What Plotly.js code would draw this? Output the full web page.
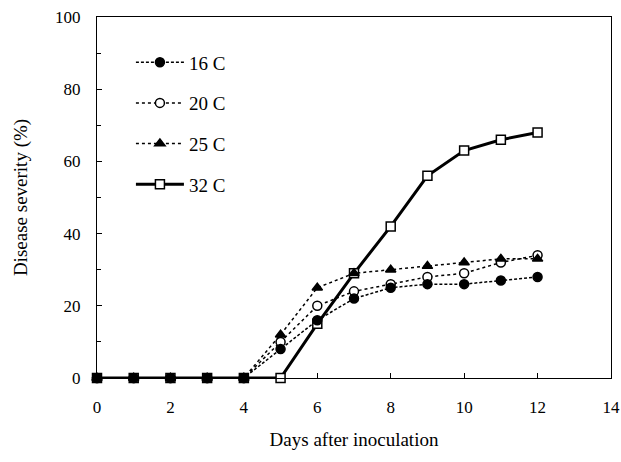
<!DOCTYPE html>
<html>
<head>
<meta charset="utf-8">
<script src="https://cdn.plot.ly/plotly-3.0.1.min.js"></script>
<style>html,body{margin:0;padding:0;background:#fff;}#chart{width:621px;height:462px;}</style>
</head>
<body>
<div id="chart"></div>
<script>
var days = [0,1,2,3,4,5,6,7,8,9,10,11,12];
var seriesNames = ["16 C","20 C","25 C","32 C"];
var sev16 = [0,0,0,0,0,8,16,22,25,26,26,27,28];
var sev20 = [0,0,0,0,0,10,20,24,26,28,29,32,34];
var sev25 = [0,0,0,0,0,12,25,29,30,31,32,33,33];
var sev32 = [0,0,0,0,0,0,15,29,42,56,63,66,68];
var xTicks = [0,2,4,6,8,10,12,14];
var yTicks = [0,20,40,60,80,100];

var font = "Liberation Serif, Times New Roman, serif";

function tr(name, y, sym, fill, dash, w, grp, rank) {
  return {
    x: days, y: y, name: name, type: "scatter", mode: "lines+markers",
    legendgroup: grp, legendrank: rank, cliponaxis: false,
    line: {color: "#000", width: w, dash: dash},
    marker: {symbol: sym, size: 9, color: fill, line: {color: "#000", width: 1.5}}
  };
}

// 32 C drawn first (underneath), 16 C last (on top); legend keeps 16, 20, 25, 32 order
var data = [
  tr(seriesNames[3], sev32, "square", "#fff", "solid", 3, "d", 4),
  tr(seriesNames[1], sev20, "circle", "#fff", "dot", 1.5, "b", 2),
  tr(seriesNames[2], sev25, "triangle-up", "#000", "dot", 1.5, "c", 3),
  tr(seriesNames[0], sev16, "circle", "#000", "3px,2px", 1.5, "a", 1)
];

var layout = {
  width: 621, height: 462,
  margin: {l: 97, r: 10, t: 17, b: 84},
  paper_bgcolor: "#fff", plot_bgcolor: "#fff",
  font: {family: font, size: 17, color: "#000"},
  showlegend: true,
  legend: {
    x: 0.066, y: 0.927, xanchor: "left", yanchor: "top",
    bgcolor: "rgba(0,0,0,0)", font: {family: font, size: 19, color: "#000"},
    traceorder: "grouped", tracegroupgap: 13, itemwidth: 48
  },
  xaxis: {
    range: [0, 14], tickvals: xTicks, ticktext: xTicks.map(String),
    showline: true, linecolor: "#000", linewidth: 1, mirror: true,
    ticks: "inside", ticklen: 5, tickcolor: "#000",
    showgrid: false, zeroline: false,
    ticklabelstandoff: 14,
    title: {text: "Days after inoculation", font: {family: font, size: 19}, standoff: 16},
    automargin: false
  },
  yaxis: {
    range: [0, 100], tickvals: yTicks, ticktext: yTicks.map(String),
    showline: true, linecolor: "#000", linewidth: 1, mirror: true,
    ticks: "inside", ticklen: 5, tickcolor: "#000",
    minor: {dtick: 10, ticks: "inside", ticklen: 4, tickcolor: "#000"},
    showgrid: false, zeroline: false,
    ticklabelstandoff: 12,
    title: {text: "Disease severity (%)", font: {family: font, size: 19}, standoff: 22},
    automargin: false
  }
};

Plotly.newPlot("chart", data, layout, {displayModeBar: false, staticPlot: true});
</script>
</body>
</html>
